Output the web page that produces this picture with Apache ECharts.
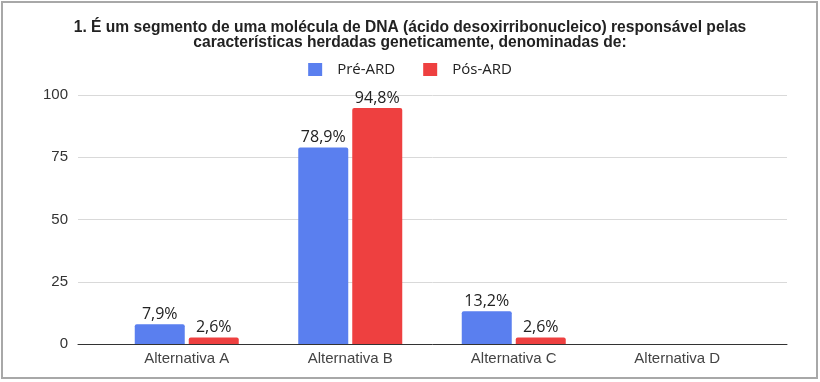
<!DOCTYPE html>
<html>
<head>
<meta charset="utf-8">
<script src="https://cdn.jsdelivr.net/npm/echarts@6/dist/echarts.min.js"></script>
<style>
  html, body { margin: 0; padding: 0; background: #fff; }
  #chart { width: 820px; height: 382px; }
</style>
</head>
<body>
<div id="chart"></div>
<script>
// values (percent)
const categories = ['Alternativa A', 'Alternativa B', 'Alternativa C', 'Alternativa D'];
const preArd = [7.9, 78.9, 13.2, 0];
const posArd = [2.6, 94.8, 2.6, 0];
const yTicks = { min: 0, max: 100, interval: 25 };

const titleText = '1. É um segmento de uma molécula de DNA (ácido desoxirribonucleico) responsável pelas\ncaracterísticas herdadas geneticamente, denominadas de:';

const BLUE = '#5a7fef';
const RED = '#ee4040';

const chart = echarts.init(document.getElementById('chart'));

const pctLabel = (p) => (p.value ? String(p.value).replace('.', ',') + '%' : '');

const barLabel = {
  show: true,
  position: 'top',
  distance: 2,
  formatter: pctLabel,
  color: '#222',
  fontFamily: 'Open Sans',
  fontSize: 16,
};

chart.setOption({
  animation: false,
  title: {
    text: titleText,
    left: 'center',
    top: 15,
    textStyle: {
      fontFamily: 'Liberation Sans',
      fontWeight: 'bold',
      fontSize: 15.6,
      lineHeight: 15,
      color: '#222',
    },
  },
  legend: {
    top: 57,
    left: 'center',
    icon: 'rect',
    itemWidth: 14,
    itemHeight: 13,
    itemGap: 28,
    textStyle: { fontFamily: 'Open Sans', fontSize: 15, color: '#222', padding: [0, 0, 0, 10] },
    data: ['Pré-ARD', 'Pós-ARD'],
  },
  // outer frame of the screenshot
  graphic: [{
    type: 'rect',
    shape: { x: 2, y: 2, width: 815, height: 376 },
    style: { fill: 'none', stroke: '#a8a8a8', lineWidth: 2 },
    silent: true,
  }],
  grid: [
    // bars
    { left: 105, right: 61, top: 95, bottom: 38 },
    // wider backdrop: gridlines + baseline run past the categories
    { left: 78, right: 33, top: 95, bottom: 38 },
  ],
  xAxis: [
    {
      type: 'category',
      gridIndex: 0,
      data: categories,
      axisLine: { show: false },
      axisTick: { show: false },
      axisLabel: { margin: 7, fontFamily: 'Liberation Sans', fontSize: 15, color: '#444' },
    },
    {
      type: 'value',
      gridIndex: 1,
      min: 0,
      max: 1,
      axisLine: { show: true, lineStyle: { color: '#333', width: 1 } },
      axisTick: { show: false },
      axisLabel: { show: false },
      splitLine: { show: false },
    },
  ],
  yAxis: [
    {
      type: 'value',
      gridIndex: 0,
      min: yTicks.min,
      max: yTicks.max,
      interval: yTicks.interval,
      axisLabel: { show: false },
      axisLine: { show: false },
      axisTick: { show: false },
      splitLine: { show: false },
    },
    {
      type: 'value',
      gridIndex: 1,
      min: yTicks.min,
      max: yTicks.max,
      interval: yTicks.interval,
      axisLine: { show: false },
      axisTick: { show: false },
      axisLabel: { margin: 10, fontFamily: 'Liberation Sans', fontSize: 15, color: '#333' },
      splitLine: { lineStyle: { color: '#d9d9d9' } },
    },
  ],
  series: [
    {
      name: 'Pré-ARD',
      type: 'bar',
      xAxisIndex: 0,
      yAxisIndex: 0,
      data: preArd,
      barWidth: 50,
      barGap: '8%',
      itemStyle: { color: BLUE, borderRadius: [2, 2, 0, 0] },
      label: barLabel,
    },
    {
      name: 'Pós-ARD',
      type: 'bar',
      xAxisIndex: 0,
      yAxisIndex: 0,
      data: posArd,
      barWidth: 50,
      barGap: '8%',
      itemStyle: { color: RED, borderRadius: [2, 2, 0, 0] },
      label: barLabel,
    },
  ],
});
</script>
</body>
</html>
